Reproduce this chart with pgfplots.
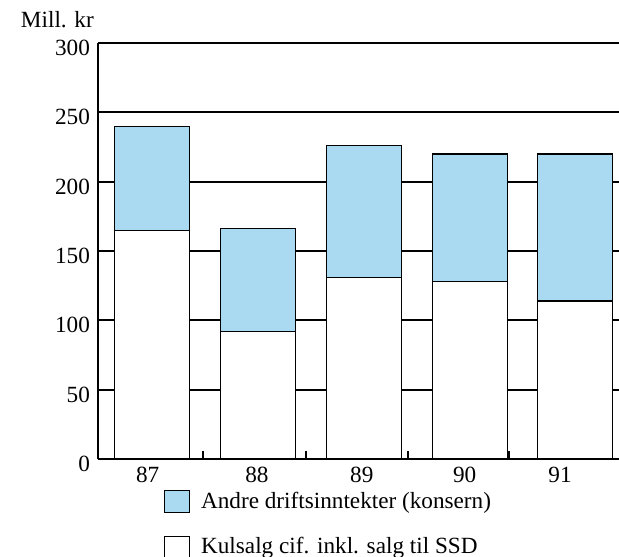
\documentclass[border=0pt]{standalone}
\usepackage{fontspec}
\setmainfont{Liberation Serif}
\usepackage{pgfplots}
\pgfplotsset{compat=1.18}
\definecolor{lyseblaa}{RGB}{170,218,242}
\pgfplotsset{boxlegend/.style={legend image code/.code={%
  \draw[##1, line width=0.6pt] (0pt,-5.5pt) rectangle (12.5pt,5.5pt);
  \path[draw=none, fill=none] (12.5pt,0pt) -- (16.5pt,0pt);}}}
\begin{document}
\fontsize{11.6pt}{14pt}\selectfont
\begin{tikzpicture}
\path[use as bounding box] (-49pt,-48.5pt) rectangle (260.5pt,229.5pt);
\begin{axis}[
  at={(0pt,0pt)}, anchor=south west,
  scale only axis, width=260.5pt, height=208pt,
  xmin=-0.509, xmax=4.406, ymin=0, ymax=300,
  ybar stacked, bar width=37.5pt,
  axis lines*=left,
  axis line style={line width=1pt},
  xtick={-0.04,0.99,1.98,2.95,3.85},
  xticklabels={87,88,89,90,91},
  minor xtick={0.48,1.45,2.42,3.37},
  ytick={0,50,...,300},
  yticklabel style={yshift=-2.5pt},
  major tick length=0pt, minor tick length=4pt, tick align=inside,
  minor x tick style={line width=1pt, black},
  ymajorgrids, major grid style={line width=1pt, black},
  /pgf/number format/assume math mode=true,
  reverse legend,
  legend cell align=left,
  legend style={draw=none, fill=none, at={(0.125,-0.068)}, anchor=north west,
    inner sep=0pt, row sep=9pt},
]
% Kulsalg (nederst)
\addplot[draw=black, line width=0.6pt, fill=white, boxlegend]
  coordinates {(0,165) (1,92) (2,131) (3,128) (3.99,114)};
\addlegendentry{Kulsalg cif. inkl. salg til SSD}
% Andre driftsinntekter (øverst)
\addplot[draw=black, line width=0.6pt, fill=lyseblaa, boxlegend]
  coordinates {(0,75) (1,74) (2,95) (3,92) (3.99,106)};
\addlegendentry{Andre driftsinntekter (konsern)}
\end{axis}
\node[anchor=base west, inner sep=0pt] at (-38.7pt,215.5pt) {Mill. kr};
\end{tikzpicture}
\end{document}
